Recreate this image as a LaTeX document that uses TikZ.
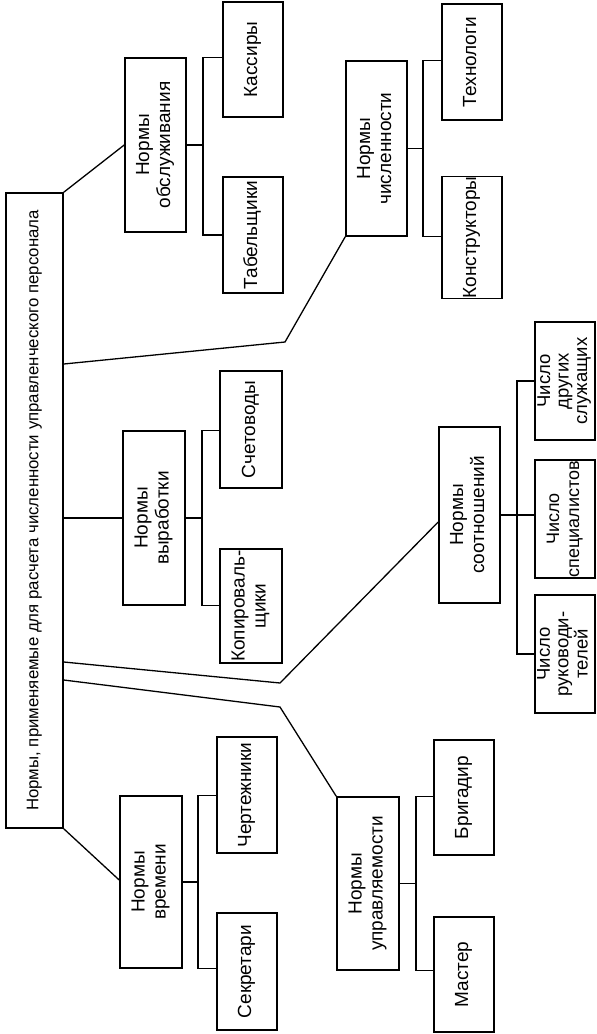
\documentclass[tikz,border=0pt]{standalone}
\usepackage{fontspec}
\setmainfont{Liberation Sans}
\usepackage{graphicx}
\tikzset{
  x=1pt, y=-1pt,
  box/.style={draw, line width=1.6pt, inner sep=0pt, font=\fontsize{19}{21}\selectfont},
  tight/.style={font=\fontsize{18.5}{18.5}\selectfont},
  conn/.style={line width=1.3pt},
}
\newcommand{\rt}[1]{\rotatebox{90}{\begin{tabular}{@{}c@{}}#1\end{tabular}}}
\begin{document}
\begin{tikzpicture}
\useasboundingbox (0,0) rectangle (597,1034);
% main
\node[box, minimum width=57pt, minimum height=635pt, font=\fontsize{16.8}{20}\selectfont] (main) at (34.5,510.5) {\rt{Нормы, применяемые для расчета численности управленческого персонала}};
% obsluzhivaniya group
\node[box, minimum width=61pt, minimum height=174pt] (obs) at (155.5,145) {\rt{Нормы\\обслуживания}};
\node[box, minimum width=60pt, minimum height=115pt] (kass) at (253,59.5) {\rt{Кассиры}};
\node[box, minimum width=60pt, minimum height=116pt] (tab) at (253,235) {\rt{Табельщики}};
% chislennosti group
\node[box, minimum width=61pt, minimum height=175pt] (chis) at (376.5,148.5) {\rt{Нормы\\численности}};
\node[box, minimum width=60pt, minimum height=116pt] (tech) at (472,62) {\rt{Технологи}};
\node[box, minimum width=60pt, minimum height=117pt] (kons) at (472,237.5) {\rt{Конструкторы}};
% vyrabotki group
\node[box, minimum width=62pt, minimum height=174pt] (vyr) at (154,518) {\rt{Нормы\\выработки}};
\node[box, minimum width=62pt, minimum height=117pt] (schet) at (251,429.5) {\rt{Счетоводы}};
\node[box, minimum width=62pt, minimum height=114pt] (kop) at (251,606) {\rt{Копироваль-\\щики}};
% sootnosheniy group
\node[box, minimum width=61pt, minimum height=176pt] (soot) at (469.5,515) {\rt{Нормы\\соотношений}};
\node[box, tight, minimum width=60pt, minimum height=118pt] (drug) at (565,381) {\rt{Число\\других\\служащих}};
\node[box, font=\fontsize{18}{20}\selectfont, minimum width=60pt, minimum height=118pt] (spec) at (565,519) {\rt{Число\\специалистов}};
\node[box, tight, minimum width=60pt, minimum height=118pt] (ruk) at (565,654) {\rt{Число\\руководи-\\телей}};
% vremeni group
\node[box, minimum width=62pt, minimum height=172pt] (vrem) at (151,882) {\rt{Нормы\\времени}};
\node[box, minimum width=60pt, minimum height=116pt] (chert) at (247,795) {\rt{Чертежники}};
\node[box, minimum width=60pt, minimum height=117pt] (sekr) at (247,971.5) {\rt{Секретари}};
% upravlyaemosti group
\node[box, minimum width=62pt, minimum height=173pt] (upr) at (368,883.5) {\rt{Нормы\\управляемости}};
\node[box, minimum width=60pt, minimum height=115pt] (brig) at (464,797.5) {\rt{Бригадир}};
\node[box, minimum width=60pt, minimum height=115pt] (mast) at (464,974.5) {\rt{Мастер}};

% bend coordinates
\coordinate (kchis) at (285,342);
\coordinate (ksoot) at (280,683);
\coordinate (kupr) at (280,707);
\coordinate (bobs) at (203,145);
\coordinate (bchis) at (423,148.5);
\coordinate (bvyr) at (202,518);
\coordinate (bsoot) at (517,515);
\coordinate (bvrem) at (198,882);
\coordinate (bupr) at (416,883.5);

% main connectors
\draw[conn] (main.north east) -- (obs.west);
\draw[conn] (main.east |- 0,364) -- (kchis) -- (chis.south west);
\draw[conn] (main.east |- vyr.west) -- (vyr.west);
\draw[conn] (main.east |- 0,662) -- (ksoot) -- (soot.west |- 0,522);
\draw[conn] (main.east |- 0,680) -- (kupr) -- (upr.north west);
\draw[conn] (main.south east) -- (vrem.west |- 0,880);

% brackets
\draw[conn] (obs.east) -- (bobs);
\draw[conn] (kass.west |- obs.north) -| (bobs) |- (tab.west |- 0,235);
\draw[conn] (chis.east) -- (bchis);
\draw[conn] (tech.west |- chis.north) -| (bchis) |- (kons.west |- chis.south);
\draw[conn] (vyr.east) -- (bvyr);
\draw[conn] (schet.west |- vyr.north) -| (bvyr) |- (kop.west |- vyr.south);
\draw[conn] (soot.east) -- (soot.east -| spec.west);
\draw[conn] (drug.west) -| (bsoot) |- (ruk.west);
\draw[conn] (vrem.east) -- (bvrem);
\draw[conn] (chert.west |- vrem.north) -| (bvrem) |- (sekr.west |- vrem.south);
\draw[conn] (upr.east) -- (bupr);
\draw[conn] (brig.west |- upr.north) -| (bupr) |- (mast.west |- upr.south);
\end{tikzpicture}
\end{document}
